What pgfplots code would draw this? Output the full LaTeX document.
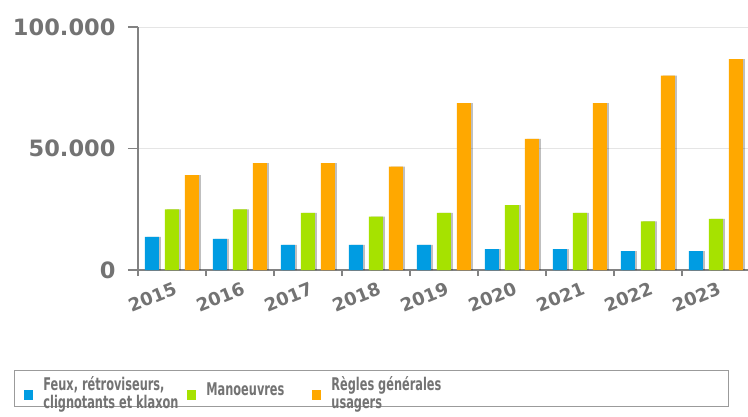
\documentclass[border=0pt]{standalone}
\usepackage{fontspec}
\setmainfont{DejaVu Sans}
\newfontfamily\legfont{DejaVu Sans Condensed}[FakeStretch=0.72]
\usepackage{pgfplots}
\pgfplotsset{compat=1.18}
\definecolor{txtgray}{RGB}{115,115,115}
\definecolor{axgray}{RGB}{130,130,130}
\definecolor{feux}{RGB}{0,156,226}
\definecolor{manoe}{RGB}{166,226,0}
\definecolor{regles}{RGB}{255,168,0}
\begin{document}
\begin{tikzpicture}[x=1pt,y=1pt]
\useasboundingbox (0,0) rectangle (748,416);
\begin{axis}[
  at={(138pt,146pt)}, anchor=south west,
  scale only axis, width=612pt, height=243pt,
  xmin=-0.5, xmax=8.5, ymin=0, ymax=100000,
  axis x line*=bottom, axis y line*=left,
  axis line style={axgray, line width=1.2pt},
  xtick={0,...,8},
  xticklabels={2015,2016,2017,2018,2019,2020,2021,2022,2023},
  major x tick style={draw=none},
  minor xtick={-0.5,0.5,...,8.5},
  minor x tick style={axgray, line width=1.2pt},
  minor tick length=6pt,
  ytick={0,50000,100000},
  major y tick style={axgray, line width=1.2pt},
  major tick length=10pt,
  tick align=outside,
  ymajorgrids, grid style={gray!20, line width=1pt},
  scaled y ticks=false,
  /pgf/number format/.cd, fixed, set thousands separator={.}, assume math mode=true, /pgfplots/.cd,
  yticklabel style={font=\fontsize{22.5}{22.5}\selectfont\bfseries, text=txtgray, xshift=-9pt},
  xticklabel style={font=\fontsize{18}{18}\selectfont\bfseries, text=txtgray, rotate=22, anchor=north east, xshift=4pt, yshift=2pt},
  clip=false,
  legend columns=3,
  legend cell align=left,
  legend style={at={(-0.2027,-0.4115)}, anchor=north west, draw=axgray!80, line width=1pt,
    font=\fontsize{17.5}{18.5}\selectfont\legfont\bfseries\color{txtgray},
    inner xsep=10pt, inner ysep=4pt,
    /tikz/every odd column/.append style={column sep=8pt},
    /tikz/every even column/.append style={column sep=2pt}},
  legend image code/.code={\fill[#1] (0pt,-12pt) rectangle (9pt,-2pt);},
]
% shadows
\addplot[ybar, bar width=14pt, bar shift=-18pt, fill=black, fill opacity=0.25, draw=none, forget plot]
  coordinates {(0,13600) (1,12800) (2,10300) (3,10300) (4,10300) (5,8600) (6,8600) (7,7800) (8,7800)};
\addplot[ybar, bar width=14pt, bar shift=2pt, fill=black, fill opacity=0.25, draw=none, forget plot]
  coordinates {(0,25000) (1,25000) (2,23500) (3,22000) (4,23500) (5,26700) (6,23500) (7,20000) (8,21000)};
\addplot[ybar, bar width=14pt, bar shift=22pt, fill=black, fill opacity=0.25, draw=none, forget plot]
  coordinates {(0,39000) (1,44000) (2,44000) (3,42500) (4,68700) (5,54000) (6,68700) (7,80000) (8,86800)};
% bars
\addplot[ybar, bar width=14pt, bar shift=-20pt, fill=feux, draw=none]
  coordinates {(0,13600) (1,12800) (2,10300) (3,10300) (4,10300) (5,8600) (6,8600) (7,7800) (8,7800)};
\addplot[ybar, bar width=14pt, bar shift=0pt, fill=manoe, draw=none]
  coordinates {(0,25000) (1,25000) (2,23500) (3,22000) (4,23500) (5,26700) (6,23500) (7,20000) (8,21000)};
\addplot[ybar, bar width=14pt, bar shift=20pt, fill=regles, draw=none]
  coordinates {(0,39000) (1,44000) (2,44000) (3,42500) (4,68700) (5,54000) (6,68700) (7,80000) (8,86800)};
\legend{{\parbox[c]{140pt}{\raggedright Feux, rétroviseurs,\\clignotants et klaxon}},
        {\parbox[c]{102pt}{\raggedright Manoeuvres}},
        {\parbox[c]{385pt}{\raggedright Règles générales\\usagers}}}
\end{axis}
\end{tikzpicture}
\end{document}
